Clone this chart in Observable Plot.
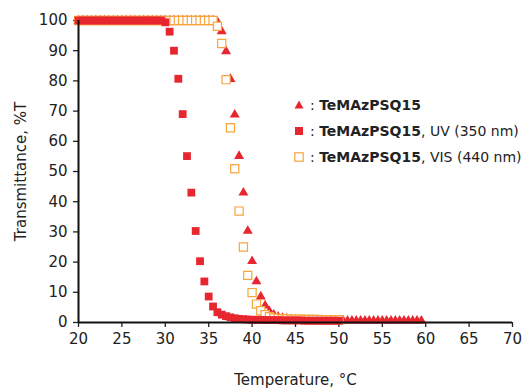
<!DOCTYPE html>
<html>
<head>
<meta charset="utf-8">
<script src="https://cdn.jsdelivr.net/npm/d3@7"></script>
<script src="https://cdn.jsdelivr.net/npm/@observablehq/plot@0.6"></script>
<style>
  html, body { margin: 0; padding: 0; background: #fff; }
  #wrap { position: relative; width: 524px; height: 388px; font-family: "DejaVu Sans", sans-serif; color: #222; }
  #legend { position: absolute; left: 292px; top: 92px; font-size: 14px; line-height: 26px; white-space: nowrap; }
  #legend .row { display: flex; align-items: center; height: 26px; }
  #legend svg { width: 14px; height: 14px; margin-right: 4px; }
</style>
</head>
<body>
<div id="wrap"></div>
<script>
// Temperature (°C) sample points
const temps = [20,20.5,21,21.5,22,22.5,23,23.5,24,24.5,25,25.5,26,26.5,27,27.5,28,28.5,29,29.5,
  30,30.5,31,31.5,32,32.5,33,33.5,34,34.5,35,35.5,36,36.5,37,37.5,38,38.5,39,39.5,
  40,40.5,41,41.5,42,42.5,43,43.5,44,44.5,45,45.5,46,46.5,47,47.5,48,48.5,49,49.5,
  50,50.5,51,51.5,52,52.5,53,53.5,54,54.5,55,55.5,56,56.5,57,57.5,58,58.5,59,59.5,60];

// TeMAzPSQ15 (triangles), 20–60 °C
const darkT = [100,100,100,100,100,100,100,100,100,100,100,100,100,100,100,100,
  100,100,100,100,100,100,100,100,100,100,100,100,100,100,100,100,
  99.6,96.4,89.8,80.6,68.8,55.1,43.0,30.3,20.3,13.6,8.6,5.6,3.7,2.6,1.9,1.5,1.2,1.0,0.9,0.8,0.8,
  0.7,0.7,0.7,0.7,0.7,0.7,0.7,0.6,0.6,0.6,0.6,0.6,0.6,0.6,0.6,0.6,0.6,0.6,0.6,0.6,0.6,0.6,0.6,0.6,0.6,0.6,0.6];

// TeMAzPSQ15, UV (350 nm) (filled squares), 20–50 °C
const uvT = [100,100,100,100,100,100,100,100,100,100,100,100,100,100,100,100,100,100,100,100,
  99.4,96.3,90.0,80.7,69.0,55.1,43.0,30.3,20.3,13.6,8.6,5.3,3.4,2.6,2.1,1.7,1.4,1.2,1.1,1.0,0.9,
  0.9,0.9,0.8,0.8,0.8,0.8,0.7,0.7,0.7,0.7,0.7,0.6,0.6,0.6,0.6,0.6,0.6,0.6,0.6,0.6];

// TeMAzPSQ15, VIS (440 nm) (open squares), 20–50 °C
const visT = [100,100,100,100,100,100,100,100,100,100,100,100,100,100,100,100,
  100,100,100,100,100,100,100,100,100,100,100,100,100,100,100,100,
  98.1,92.4,80.4,64.5,50.9,36.9,25.0,15.6,9.9,6.1,3.9,2.6,1.9,1.5,1.3,
  1.2,1.2,1.1,1.1,1.1,1.0,1.0,1.0,1.0,0.9,0.9,0.9,0.9,0.9];

const xTicks = [20,25,30,35,40,45,50,55,60,65,70];
const yTicks = [0,10,20,30,40,50,60,70,80,90,100];

const RED = "#e8262f";
const ORANGE = "#f7a53c";

const toRows = (vals) => vals.map((v, i) => ({t: temps[i], v}));
const dark = toRows(darkT);
const uv = toRows(uvT);
const vis = toRows(visT);

const chart = Plot.plot({
  width: 524,
  height: 388,
  marginLeft: 78,
  marginRight: 12,
  marginTop: 20,
  marginBottom: 66,
  style: {fontFamily: "DejaVu Sans, sans-serif", fontSize: "15px", color: "#222", background: "#fff"},
  x: {domain: [20, 70]},
  y: {domain: [0, 100]},
  marks: [
    Plot.axisX({ticks: xTicks, tickSize: 5, tickPadding: 6, strokeWidth: 1.3, fontSize: 15,
      label: "Temperature, °C", labelAnchor: "center", labelOffset: 62, labelArrow: "none"}),
    Plot.axisY({ticks: yTicks, tickSize: 5, tickPadding: 6, strokeWidth: 1.3, fontSize: 15,
      label: "Transmittance, %T", labelAnchor: "center", labelOffset: 63, labelArrow: "none"}),
    Plot.dot(dark, {x: "t", y: "v", symbol: "triangle", r: 3.7, fill: RED, stroke: "none"}),
    Plot.dot(vis, {x: "t", y: "v", symbol: "square", r: 4.6, fill: "white", stroke: ORANGE, strokeWidth: 1.2}),
    Plot.dot(uv, {x: "t", y: "v", symbol: "square", r: 4.4, fill: RED, stroke: "none"}),
    Plot.ruleY([0], {stroke: "#111", strokeWidth: 2}),
    Plot.ruleX([20], {stroke: "#111", strokeWidth: 2})
  ]
});

const wrap = document.getElementById("wrap");
wrap.appendChild(chart);

const legend = document.createElement("div");
legend.id = "legend";
legend.innerHTML = `
  <div class="row"><svg viewBox="-7 -7 14 14"><path d="M0,-4.5L4.5,3.5L-4.5,3.5Z" fill="${RED}"/></svg><span>: <b>TeMAzPSQ15</b></span></div>
  <div class="row"><svg viewBox="-7 -7 14 14"><rect x="-4" y="-4" width="8" height="8" fill="${RED}"/></svg><span>: <b>TeMAzPSQ15</b>, UV (350 nm)</span></div>
  <div class="row"><svg viewBox="-7 -7 14 14"><rect x="-4.2" y="-4.2" width="8.4" height="8.4" fill="white" stroke="${ORANGE}" stroke-width="1.2"/></svg><span>: <b>TeMAzPSQ15</b>, VIS (440 nm)</span></div>`;
wrap.appendChild(legend);
</script>
</body>
</html>
